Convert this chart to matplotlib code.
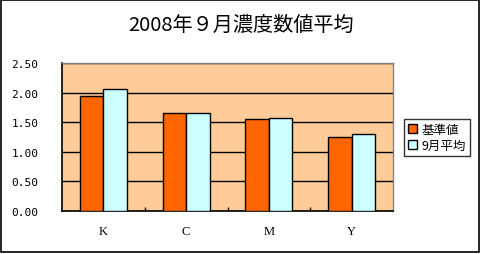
import matplotlib
matplotlib.use("Agg")
import matplotlib.pyplot as plt
import numpy as np
from matplotlib.patches import Rectangle

plt.rcParams['font.family'] = ['Noto Sans CJK JP', 'DejaVu Sans']

categories = ["K", "C", "M", "Y"]
base_values = [1.94, 1.65, 1.55, 1.25]
sep_values = [2.06, 1.65, 1.57, 1.30]
series_names = ["基準値", "9月平均"]
yticks = [0.0, 0.5, 1.0, 1.5, 2.0, 2.5]
title = "2008年９月濃度数値平均"

fig = plt.figure(figsize=(4.82, 2.55), dpi=100)
fig.patch.set_facecolor("white")
fig.patches.append(Rectangle((0.002, 0.006), 0.992, 0.99, transform=fig.transFigure,
                             fill=False, edgecolor="black", linewidth=1.2))

ax = fig.add_axes([62/482, 43/255, 331/482, 148/255])
ax.set_facecolor("#FFCC99")

x = np.arange(len(categories))
w = 0.284
ax.bar(x - w/2, base_values, w, color="#FF6600", edgecolor="black", linewidth=1.0,
       label=series_names[0], zorder=3)
ax.bar(x + w/2, sep_values, w, color="#CCFFFF", edgecolor="black", linewidth=1.0,
       label=series_names[1], zorder=3)

ax.set_xlim(-0.5, len(categories) - 0.5)
ax.set_ylim(0, 2.5)
ax.set_yticks(yticks)
ax.set_yticklabels([f"{v:.2f}" for v in yticks], fontsize=8, family=["DejaVu Sans Mono"])
ax.yaxis.grid(True, color="black", linewidth=1.0, zorder=1)
ax.set_axisbelow(True)
ax.tick_params(axis="y", length=0, pad=17)

ax.set_xticks(x)
ax.set_xticklabels(categories, fontsize=9, family=["Liberation Serif"])
ax.set_xticks(np.arange(0.5, len(categories) - 0.5, 1), minor=True)
ax.tick_params(axis="x", which="major", length=0, pad=10)
ax.tick_params(axis="x", which="minor", length=3, direction="in", width=1.0)

for s in ["left", "bottom"]:
    ax.spines[s].set_color("black")
    ax.spines[s].set_linewidth(1.2)
for s in ["top", "right"]:
    ax.spines[s].set_color("#808080")
    ax.spines[s].set_linewidth(1.0)

fig.text(0.5, 1 - 25/255, title, ha="center", va="center", fontsize=14.5)

leg = fig.legend(loc="upper left", bbox_to_anchor=(404/482, 1 - 120/255),
                 fontsize=9, frameon=True, fancybox=False, edgecolor="black",
                 handlelength=0.75, handleheight=0.75, handletextpad=0.35,
                 borderpad=0.3, labelspacing=0.25, borderaxespad=0)
leg.get_frame().set_linewidth(1.0)

fig.savefig("out.png", dpi=100)
